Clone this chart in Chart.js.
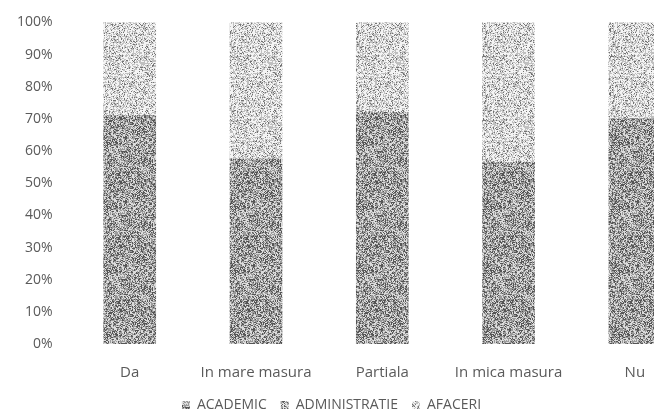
<!DOCTYPE html>
<html>
<head>
<meta charset="utf-8">
<script src="https://cdn.jsdelivr.net/npm/chart.js@4/dist/chart.umd.min.js"></script>
<style>
  html, body { margin: 0; padding: 0; background: #fff; overflow: hidden; }
  #wrap { position: absolute; left: 0; top: 0; width: 698px; height: 417px; }
</style>
</head>
<body>
<div id="wrap"><canvas id="barchart"></canvas></div>
<script>
const categories = ['Da', 'In mare masura', 'Partiala', 'In mica masura', 'Nu'];
const academic = [71, 57.5, 72, 56.5, 70];
const administratie = [0, 0, 0, 0, 0];
const afaceri = [29, 42.5, 28, 43.5, 30];
const yTicks = [0, 10, 20, 30, 40, 50, 60, 70, 80, 90, 100];

// grainy fill like the scanned print
function grain(seed, shades) {
    const c = document.createElement('canvas');
    c.width = 64; c.height = 64;
    const g = c.getContext('2d');
    const img = g.createImageData(64, 64);
    let s = seed;
    for (let i = 0; i < 64 * 64; i++) {
        s = (s * 1103515245 + 12345) & 0x7fffffff;
        const r = (s >> 8) / 8388608;
        let v = shades[shades.length - 1][1];
        let acc = 0;
        for (const [p, col] of shades) { acc += p; if (r < acc) { v = col; break; } }
        img.data[i * 4] = v; img.data[i * 4 + 1] = v; img.data[i * 4 + 2] = v; img.data[i * 4 + 3] = 255;
    }
    g.putImageData(img, 0, 0);
    return g.createPattern(c, 'repeat');
}
const darkFill = grain(7, [[0.26, 85], [0.40, 155], [1, 220]]);
const midFill = grain(11, [[0.22, 95], [0.40, 165], [1, 228]]);
const lightFill = grain(3, [[0.11, 115], [0.40, 192], [1, 244]]);

// legend centred on the visible page, sitting a bit higher than its reserved box
const legendShift = {
    id: 'legendShift',
    afterLayout(chart) {
        const lg = chart.legend;
        lg.right = 660;
        lg.top -= 18;
        lg.bottom -= 18;
    }
};

window.addEventListener('load', () => {
    const ctx = document.getElementById('barchart');
    Chart.defaults.font.family = "'Open Sans', sans-serif";
    Chart.defaults.font.size = 12;
    Chart.defaults.color = '#5a5a5a';

    new Chart(ctx, {
        type: 'bar',
        data: {
            labels: categories,
            datasets: [
                { label: 'ACADEMIC', data: academic, backgroundColor: darkFill },
                { label: 'ADMINISTRATIE', data: administratie, backgroundColor: midFill },
                { label: 'AFACERI', data: afaceri, backgroundColor: lightFill }
            ]
        },
        plugins: [legendShift],
        options: {
            responsive: true,
            maintainAspectRatio: false,
            animation: false,
            barThickness: 52,
            layout: { padding: { top: 21, left: 3, right: 0, bottom: -23 } },
            scales: {
                x: {
                    stacked: true,
                    grid: { display: false, drawTicks: false },
                    border: { display: false },
                    ticks: { padding: 20, font: { size: 15 } }
                },
                y: {
                    stacked: true,
                    min: 0,
                    max: 100,
                    afterBuildTicks: (axis) => { axis.ticks = yTicks.map(v => ({ value: v })); },
                    grid: { display: false, drawTicks: false },
                    border: { display: false },
                    ticks: { padding: 14, callback: (v) => v + '%', font: { size: 14 } }
                }
            },
            plugins: {
                legend: {
                    position: 'bottom',
                    labels: { boxWidth: 8, boxHeight: 8, padding: 14, font: { size: 14 } }
                },
                tooltip: { enabled: false }
            }
        }
    });
});
</script>
</body>
</html>
